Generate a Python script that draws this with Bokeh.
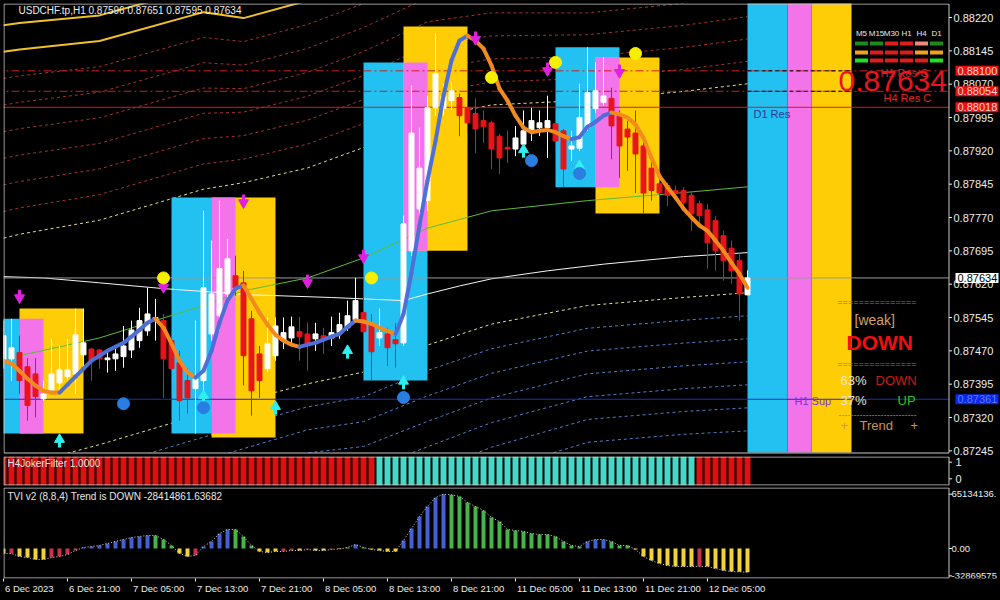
from bokeh.plotting import figure
from bokeh.layouts import column
from bokeh.models import (Range1d, FixedTicker, Label, ColumnDataSource,
                          GlobalInlineStyleSheet)
from bokeh.core.properties import value
from bokeh.embed import file_html
from bokeh.resources import INLINE

FONT = "Liberation Sans"

# ----------------------------------------------------------------- data
bars = list(range(94))   # H1 bars, 6 Dec 13:00 ... 12 Dec 10:00

opens = [
    0.87448, 0.87452, 0.87466, 0.87434, 0.87418, 0.87362, 0.87378, 0.87398, 0.87412, 0.87418,
    0.87461, 0.87474, 0.87472, 0.87450, 0.87452, 0.87457, 0.87472, 0.87493, 0.87515, 0.87538,
    0.87538, 0.87493, 0.87443, 0.87403, 0.87385, 0.87403, 0.87508, 0.87549, 0.87598, 0.87639,
    0.87623, 0.87542, 0.87463, 0.87430, 0.87459, 0.87493, 0.87499, 0.87513, 0.87508, 0.87497,
    0.87504, 0.87499, 0.87511, 0.87522, 0.87540, 0.87556, 0.87529, 0.87499, 0.87508, 0.87495,
    0.87488, 0.87695, 0.87789, 0.87808, 0.88017, 0.88015, 0.88033, 0.88040, 0.88017, 0.88004,
    0.87988, 0.87983, 0.87953, 0.87928, 0.87924, 0.87935, 0.87965, 0.87972, 0.87972, 0.87981,
    0.87965, 0.87924, 0.87926, 0.87972, 0.88015, 0.88029, 0.88038, 0.87999, 0.87969, 0.87960,
    0.87931, 0.87881, 0.87846, 0.87842, 0.87831, 0.87831, 0.87820, 0.87801, 0.87787, 0.87763,
    0.87729, 0.87701, 0.87673, 0.87596]
highs = [
    0.87538, 0.87542, 0.87504, 0.87454, 0.87454, 0.87403, 0.87497, 0.87481, 0.87497, 0.87565,
    0.87565, 0.87477, 0.87474, 0.87466, 0.87481, 0.87526, 0.87538, 0.87567, 0.87612, 0.87587,
    0.87553, 0.87515, 0.87470, 0.87430, 0.87538, 0.87785, 0.87718, 0.87808, 0.87722, 0.87684,
    0.87650, 0.87560, 0.87481, 0.87545, 0.87545, 0.87545, 0.87547, 0.87547, 0.87533, 0.87533,
    0.87522, 0.87547, 0.87556, 0.87583, 0.87634, 0.87614, 0.87553, 0.87565, 0.87522, 0.87533,
    0.87774, 0.88067, 0.87972, 0.88044, 0.88184, 0.88071, 0.88074, 0.88049, 0.88026, 0.88038,
    0.88011, 0.87988, 0.87958, 0.87965, 0.87976, 0.88011, 0.88017, 0.88011, 0.88044, 0.88011,
    0.87969, 0.87965, 0.88071, 0.88153, 0.88119, 0.88130, 0.88062, 0.88011, 0.87988, 0.88011,
    0.87942, 0.87897, 0.87853, 0.87849, 0.87842, 0.87838, 0.87827, 0.87808, 0.87801, 0.87774,
    0.87740, 0.87718, 0.87689, 0.87651]
lows = [
    0.87430, 0.87403, 0.87373, 0.87313, 0.87320, 0.87358, 0.87373, 0.87380, 0.87403, 0.87373,
    0.87432, 0.87403, 0.87430, 0.87421, 0.87425, 0.87432, 0.87454, 0.87477, 0.87504, 0.87493,
    0.87364, 0.87373, 0.87313, 0.87329, 0.87284, 0.87364, 0.87493, 0.87515, 0.87583, 0.87594,
    0.87392, 0.87324, 0.87364, 0.87421, 0.87448, 0.87474, 0.87486, 0.87448, 0.87425, 0.87470,
    0.87463, 0.87481, 0.87497, 0.87515, 0.87538, 0.87403, 0.87403, 0.87481, 0.87436, 0.87432,
    0.87481, 0.87684, 0.87740, 0.87785, 0.87999, 0.87999, 0.88011, 0.87953, 0.87960, 0.87915,
    0.87937, 0.87879, 0.87868, 0.87892, 0.87908, 0.87915, 0.87942, 0.87953, 0.87904, 0.87919,
    0.87838, 0.87897, 0.87919, 0.87965, 0.88006, 0.88022, 0.87901, 0.87859, 0.87875, 0.87825,
    0.87778, 0.87808, 0.87796, 0.87796, 0.87814, 0.87792, 0.87740, 0.87756, 0.87655, 0.87650,
    0.87628, 0.87621, 0.87538, 0.87595]
closes = [
    0.87504, 0.87477, 0.87403, 0.87347, 0.87367, 0.87373, 0.87418, 0.87427, 0.87427, 0.87506,
    0.87488, 0.87448, 0.87452, 0.87454, 0.87463, 0.87481, 0.87517, 0.87538, 0.87553, 0.87545,
    0.87452, 0.87430, 0.87358, 0.87364, 0.87407, 0.87612, 0.87598, 0.87655, 0.87677, 0.87612,
    0.87459, 0.87380, 0.87403, 0.87486, 0.87526, 0.87511, 0.87524, 0.87502, 0.87486, 0.87508,
    0.87495, 0.87511, 0.87529, 0.87549, 0.87583, 0.87513, 0.87468, 0.87511, 0.87477, 0.87486,
    0.87756, 0.87960, 0.87881, 0.88017, 0.88094, 0.88044, 0.88055, 0.87999, 0.87983, 0.87969,
    0.87974, 0.87924, 0.87904, 0.87924, 0.87949, 0.87965, 0.87988, 0.87983, 0.87988, 0.87942,
    0.87879, 0.87931, 0.87995, 0.88051, 0.88055, 0.88044, 0.87976, 0.87931, 0.87951, 0.87913,
    0.87825, 0.87831, 0.87825, 0.87820, 0.87825, 0.87803, 0.87778, 0.87774, 0.87713, 0.87695,
    0.87673, 0.87650, 0.87598, 0.87634]

# smoothed trend line (thick blue/orange)
trend_ma = [
    0.87448, 0.87441, 0.87425, 0.87407, 0.87392, 0.87380, 0.87376, 0.87376, 0.87394, 0.87412,
    0.87430, 0.87448, 0.87459, 0.87470, 0.87479, 0.87488, 0.87502, 0.87517, 0.87533, 0.87542,
    0.87522, 0.87486, 0.87448, 0.87421, 0.87410, 0.87425, 0.87470, 0.87533, 0.87583, 0.87610,
    0.87617, 0.87587, 0.87556, 0.87529, 0.87506, 0.87493, 0.87484, 0.87479, 0.87484, 0.87488,
    0.87495, 0.87502, 0.87508, 0.87524, 0.87538, 0.87536, 0.87531, 0.87522, 0.87515, 0.87508,
    0.87553, 0.87646, 0.87752, 0.87853, 0.87942, 0.88044, 0.88123, 0.88168, 0.88179, 0.88168,
    0.88150, 0.88112, 0.88060, 0.88033, 0.87999, 0.87972, 0.87962, 0.87965, 0.87967, 0.87962,
    0.87953, 0.87946, 0.87951, 0.87974, 0.87985, 0.87999, 0.88006, 0.88002, 0.87995, 0.87979,
    0.87949, 0.87904, 0.87863, 0.87838, 0.87815, 0.87790, 0.87770, 0.87752, 0.87740, 0.87718,
    0.87695, 0.87668, 0.87643, 0.87612]

# long moving average (white)
white_idx = [0, 5, 12, 20, 31, 41, 50, 53, 57, 61, 68, 75, 85, 93]
white_val = [0.87637, 0.87634, 0.87623, 0.87610, 0.87596, 0.87590, 0.87583, 0.87598,
             0.87616, 0.87632, 0.87650, 0.87665, 0.87682, 0.87691]

# envelope channel: centre (green line) and band unit above / below
band_idx = [0, 2, 12, 25, 30, 38, 45, 53, 61, 73, 85, 93]
band_center = [0.87448, 0.87459, 0.87499, 0.87572, 0.87605, 0.87634, 0.87679, 0.87746,
               0.87785, 0.87808, 0.87826, 0.87839]
band_up = [0.000599, 0.000594, 0.000576, 0.000569, 0.000529, 0.000538, 0.000540, 0.000540,
           0.000518, 0.000491, 0.000495, 0.000504]
band_dn = [0.000540, 0.000540, 0.000522, 0.000529, 0.000538, 0.000518, 0.000558, 0.000572,
           0.000554, 0.000513, 0.000513, 0.000518]
band_mult = [4.6, 5.6, 6.6, 7.6, 8.6, 9.6, 10.6, 11.6, 12.6]

# support / resistance levels
res_dashed = [0.88100, 0.88054]
res_solid = [0.88018]
sup_level = 0.87361

# zones (cyan / gold / pink rectangles)
zone_kind = ["cyan", "gold", "pink", "cyan", "gold", "pink",
             "cyan", "gold", "pink", "cyan", "gold", "pink"]
zone_left = [-3, 2, 2, 21, 26, 26, 45, 50, 50, 69, 74, 74]
zone_right = [2, 10, 5, 26, 34, 29, 53, 58, 53, 77, 82, 77]
zone_top = [0.87542, 0.87565, 0.87542, 0.87815, 0.87815, 0.87815,
            0.88119, 0.88200, 0.88119, 0.88153, 0.88130, 0.88130]
zone_bottom = [0.87284, 0.87284, 0.87284, 0.87284, 0.87275, 0.87284,
               0.87403, 0.87695, 0.87695, 0.87838, 0.87779, 0.87838]
strip_kind = ["cyan", "pink", "gold"]
strip_left = [93, 98, 101]
strip_right = [98, 101, 106]

# signal markers
down_arrow_idx = [2, 20, 30, 38, 45, 59, 68, 77]
down_arrow_price = [0.87594, 0.87617, 0.87808, 0.87628, 0.87684, 0.88175, 0.88105, 0.88101]
up_arrow_idx = [7, 25, 34, 43, 50, 65, 72]
up_arrow_price = [0.87266, 0.87365, 0.87340, 0.87466, 0.87397, 0.87918, 0.87882]
yellow_dot_idx = [20, 46, 61, 69, 79]
yellow_dot_price = [0.87634, 0.87634, 0.88085, 0.88119, 0.88139]
blue_dot_idx = [15, 25, 50, 66, 72]
blue_dot_price = [0.87351, 0.87342, 0.87365, 0.87898, 0.87869]

# H4 Joker filter state per bar (D = down / red, U = up / turquoise)
joker_state = ("DDDDDDDDDD" "DDDDDDDDDD" "DDDDDDDDDD" "DDDDDDDDDD" "DDDDDDD"
               "UUUUUUUUUU" "UUUUUUUUUU" "UUUUUUUUUU" "UUUUUUUUUU" "DDDDDDD")
joker_ticks = [1, 0]

# TVI v2 histogram (millions) and its colour state per bar
tvi_values = [
    -6.0, -6.0, -9.6, -10.8, -13.2, -13.2, -10.8, -9.6, -7.2, -2.4,
    1.2, 2.4, 3.6, 6.0, 8.4, 10.8, 13.2, 14.4, 15.6, 15.6,
    10.8, 3.6, -6.0, -9.6, -8.4, 2.4, 8.4, 18.0, 22.8, 22.8,
    14.4, 3.6, -3.6, -4.8, -3.6, -3.6, -2.4, -2.4, -1.2, -2.4,
    -2.4, -1.2, -0.6, 1.2, 4.8, 1.2, -1.2, -2.4, -3.6, -3.6,
    9.6, 24.0, 38.4, 50.4, 61.2, 65.13, 64.5, 62.4, 55.2, 50.4,
    45.6, 37.2, 32.4, 22.8, 21.6, 20.4, 18.0, 16.8, 16.8, 14.4,
    8.4, 3.6, 2.4, 8.4, 10.8, 10.8, 8.4, 3.6, 3.6, -1.2,
    -9.6, -14.4, -18.0, -20.4, -21.6, -21.6, -21.6, -21.6, -21.6, -24.0,
    -26.4, -27.6, -28.0, -28.41]
tvi_state = ("YRYYYYRRRR" "BBBBBBBBBG" "GGYYRBBBBG" "GGYYYRRYRY" "YRYGBGYYYY"
             "BBBBBBGGGG" "GGGGGGGGGG" "GGGBBBGGGY" "YYYYYYYRYY" "YYYY")
tvi_ticks = [65.134136, 0.0, -32.869575]
tvi_tick_text = ["65134136.", "0.00", "-32869575"]

# multi-timeframe signal table
timeframes = ["M5", "M15", "M30", "H1", "H4", "D1"]
signal_rows = [["dg", "dg", "r", "r", "s", "dg"],
               ["o", "r", "r", "r", "o", "o"],
               ["g", "r", "r", "r", "r", "g"]]

# axes
price_ticks = [0.88220, 0.88145, 0.88070, 0.87995, 0.87920, 0.87845, 0.87770,
               0.87695, 0.87620, 0.87545, 0.87470, 0.87395, 0.87320, 0.87245]
time_labels = ["6 Dec 2023", "6 Dec 21:00", "7 Dec 05:00", "7 Dec 13:00", "7 Dec 21:00",
               "8 Dec 05:00", "8 Dec 13:00", "8 Dec 21:00", "11 Dec 05:00", "11 Dec 13:00",
               "11 Dec 21:00", "12 Dec 05:00"]
time_label_bars = [0, 8, 16, 24, 32, 40, 48, 56, 64, 72, 80, 88]

# ----------------------------------------------------------------- layout helpers
PX = 0.0000225                      # price per screen pixel on main panel


def fx(px):                         # screen column -> bar position
    return (px - 3) / 8.0


def fy(py):                         # screen row -> price (main panel)
    return 0.8825825 - PX * py


def jy(py):                         # screen row -> joker value
    return (478.3 - py) / 16.6


def ty(py):                         # screen row -> TVI value (millions)
    return (548.0 - py) * 1.2


BG = "#000000"
FRAME = "#c8c8c8"
TXT = "#eeeeee"
ZONE_COL = {"cyan": "#22c1f1", "pink": "#f374e8", "gold": "#ffcd05"}
SIG_COL = {"dg": "#1a8c1a", "r": "#e01c1c", "s": "#f08a78", "o": "#f0a01e", "g": "#22e022"}
TVI_COL = {"Y": "#f2d23c", "R": "#c8324b", "B": "#4660d2", "G": "#46b446"}
JOKER_COL = {"D": "#e01010", "U": "#46d7c8"}

XL = fx(3.5)          # chart frame left
XR = fx(948.5)        # chart frame right
xr = Range1d(fx(3), fx(1000))


def make_fig(fh, y0, y1, top=0, bottom=0, xaxis=False):
    f = figure(frame_width=997, frame_height=fh, x_range=xr, y_range=Range1d(y0, y1),
               x_axis_location="below" if xaxis else None, y_axis_location=None,
               output_backend="svg", toolbar_location=None,
               background_fill_color=BG, border_fill_color=BG, outline_line_color=None,
               min_border_left=3, min_border_right=0, min_border_top=top,
               min_border_bottom=bottom)
    f.xgrid.visible = False
    f.ygrid.visible = False
    return f


def frame_lines(fig, y_top, y_bot):
    fig.segment(x0=[XL, XL, XL, XR], x1=[XL, XR, XR, XR],
                y0=[y_top, y_top, y_bot, y_top], y1=[y_bot, y_top, y_bot, y_bot],
                line_color=FRAME, line_width=1)


def scale_texts(fig, ticks, texts, size="11px", x_text=953):
    fig.segment(x0=[XR] * len(ticks), x1=[fx(951.5)] * len(ticks), y0=ticks, y1=ticks,
                line_color=TXT, line_width=1)
    fig.text(x=[fx(x_text)] * len(ticks), y=ticks, text=texts, text_color=TXT,
             text_font=value(FONT), text_font_size=size, text_baseline="middle",
             text_align="left")


def lab(fig, x, y, text, color=TXT, size="11px", fstyle="normal", font=FONT,
        align="left", **kw):
    fig.add_layout(Label(x=x, y=y, text=text, text_color=color, text_font_size=size,
                         text_font_style=fstyle, text_font=font, text_align=align,
                         text_baseline="middle", **kw))


# ----------------------------------------------------------------- main panel
p = make_fig(453, fy(456), fy(3), top=3)

# envelope bands
for k, m in enumerate(band_mult):
    upper = [c + m * u for c, u in zip(band_center, band_up)]
    lower = [c - m * d for c, d in zip(band_center, band_dn)]
    if k == 0:
        cu, cd, dash, w = "#e4e08c", "#e4e08c", "3 3", 1
    elif k <= 6:
        cu, cd, dash, w = "#a83030", "#4f7fcf", "3 3", 1
    else:
        cu, cd, dash, w = "#f0c02c", "#f0c02c", "solid", 2
    p.line(band_idx, upper, line_color=cu, line_dash=dash, line_width=w)
    p.line(band_idx, lower, line_color=cd, line_dash=dash, line_width=w)

# zones
p.quad(left=zone_left, right=zone_right, top=zone_top, bottom=zone_bottom,
       fill_color=[ZONE_COL[k] for k in zone_kind], line_color=None)
p.quad(left=strip_left, right=strip_right, top=fy(0), bottom=fy(452),
       fill_color=[ZONE_COL[k] for k in strip_kind], line_color=None)

# moving averages
p.line(white_idx, white_val, line_color="#f4f4f4", line_width=1)
p.line(band_idx, band_center, line_color="#5fba36", line_width=1)

# horizontal levels (chart area only)
n_d = len(res_dashed)
p.segment(x0=[-1] * n_d, x1=[XR] * n_d, y0=res_dashed, y1=res_dashed,
          line_color="#cc2020", line_width=1, line_dash="8 3 2 3")
p.segment(x0=[-1], x1=[XR], y0=res_solid, y1=res_solid, line_color="#cc2020", line_width=1)
p.segment(x0=[-1], x1=[XR], y0=[closes[-1]], y1=[closes[-1]], line_color="#9a9a9a",
          line_width=1)
p.segment(x0=[-1], x1=[XR], y0=[sup_level], y1=[sup_level], line_color="#1a2ad0",
          line_width=1)
p.segment(x0=[strip_left[0]] * n_d, x1=[strip_right[-1]] * n_d, y0=res_dashed, y1=res_dashed,
          line_color="#000000", line_width=1, line_dash="4 3")

# candles
bull = [c >= o for o, c in zip(opens, closes)]
csrc = ColumnDataSource(dict(
    x=bars, h=highs, l=lows,
    top=[max(o, c) for o, c in zip(opens, closes)],
    bottom=[min(o, c) for o, c in zip(opens, closes)],
    color=["#ffffff" if b else "#e8141a" for b in bull]))
p.segment(x0="x", y0="h", x1="x", y1="l", line_color="color", line_width=1, source=csrc)
p.vbar(x="x", width=0.62, top="top", bottom="bottom", fill_color="color",
       line_color="color", line_width=1, source=csrc)

# thick trend line coloured by direction
seg = ColumnDataSource(dict(
    x0=bars[:-1], x1=bars[1:], y0=trend_ma[:-1], y1=trend_ma[1:],
    color=["#4f6fd8" if b - a > 0.00004 else "#f28a1e"
           for a, b in zip(trend_ma[:-1], trend_ma[1:])]))
p.segment(x0="x0", y0="y0", x1="x1", y1="y1", line_color="color", line_width=4,
          line_cap="round", source=seg)

# arrows and dots
p.segment(x0=down_arrow_idx, x1=down_arrow_idx,
          y0=[v + 6 * PX for v in down_arrow_price], y1=[v - 1 * PX for v in down_arrow_price],
          line_color="#e020e0", line_width=3)
p.scatter(down_arrow_idx, [v - 2 * PX for v in down_arrow_price], marker="inverted_triangle",
          size=10, fill_color="#e020e0", line_color="#e020e0")
p.segment(x0=up_arrow_idx, x1=up_arrow_idx,
          y0=[v - 6 * PX for v in up_arrow_price], y1=[v + 1 * PX for v in up_arrow_price],
          line_color="#30eef0", line_width=3)
p.scatter(up_arrow_idx, [v + 2 * PX for v in up_arrow_price], marker="triangle",
          size=10, fill_color="#30eef0", line_color="#30eef0")
p.scatter(yellow_dot_idx, yellow_dot_price, marker="circle", size=12,
          fill_color="#f6f000", line_color="#f6f000")
p.scatter(blue_dot_idx, blue_dot_price, marker="circle", size=12,
          fill_color="#2a7de1", line_color="#2a7de1")

# mask below the chart frame, then the frame itself
p.quad(left=[-2], right=[fx(949)], top=[fy(452.6)], bottom=[fy(460)], fill_color=BG,
       line_color=None)
frame_lines(p, fy(3.5), fy(452.5))

# multi-timeframe table
col_px = [861, 876, 891, 906, 921, 936]
row_px = [43, 52, 60]
rx, ry, rc = [], [], []
for r, row in enumerate(signal_rows):
    for c, s in enumerate(row):
        rx.append(fx(col_px[c]))
        ry.append(fy(row_px[r]))
        rc.append(SIG_COL[s])
p.rect(x=rx, y=ry, width=13 / 8.0, height=4 * PX, fill_color=rc, line_color=None)
for c, tf in enumerate(timeframes):
    lab(p, fx(col_px[c]), fy(33), tf, color="#e8e8e8", size="8px", align="center")

# price scale
scale_texts(p, price_ticks, ["%.5f" % t for t in price_ticks])
box_levels = res_dashed + res_solid + [closes[-1], sup_level]
box_fill = ["#e81010", "#e81010", "#e81010", "#ffffff", "#0a28f0"]
box_text = ["#ffd0d0", "#ffd0d0", "#ffd0d0", "#000000", "#5a78ff"]
p.quad(left=[fx(955)] * 5, right=[fx(998)] * 5, top=[v + 5 * PX for v in box_levels],
       bottom=[v - 5 * PX for v in box_levels], fill_color=box_fill, line_color=None)
p.text(x=[fx(957)] * 5, y=box_levels, text=["%.5f" % v for v in box_levels],
       text_color=box_text, text_font=value(FONT), text_font_size="11px",
       text_baseline="middle", text_align="left")

# texts
lab(p, fx(18), fy(10), "USDCHF.tp,H1  %.5f %.5f %.5f %.5f"
    % (opens[-1], highs[-1], lows[-1], closes[-1]), size="10px")
lab(p, fx(880), fy(72), "H1 Res C", color="#b83030", size="11px")
lab(p, fx(838), fy(80), "%.5f" % closes[-1], color="#e8141e", size="30px")
lab(p, fx(883), fy(97), "H4 Res C", color="#e02424", size="11px")
lab(p, fx(753), fy(113), "D1 Res", color="#2b3990", size="11px")
lab(p, fx(837), fy(301), "===============", color="#e0502a", size="9px")
lab(p, fx(854), fy(319), "[weak]", color="#d4a060", size="14px")
lab(p, fx(846), fy(342), "DOWN", color="#ee1010", size="21px", fstyle="bold")
lab(p, fx(837), fy(363), "===============", color="#e0502a", size="9px")
lab(p, fx(840), fy(380), "63%", color="#f2e6d0", size="13px")
lab(p, fx(875), fy(380), "DOWN", color="#d01818", size="13px")
lab(p, fx(794), fy(400), "H1 Sup", color="#7b2ff0", size="11px")
lab(p, fx(840), fy(400), "37%", color="#f2e6d0", size="13px")
lab(p, fx(897), fy(400), "UP", color="#22c822", size="13px")
lab(p, fx(838), fy(414), "--------------------------", color="#c07a30", size="9px")
lab(p, fx(840), fy(425), "+", color="#d09050", size="13px")
lab(p, fx(859), fy(425), "Trend", color="#d09050", size="13px")
lab(p, fx(910), fy(425), "+", color="#d09050", size="13px")

# ----------------------------------------------------------------- joker panel
pj = make_fig(29, jy(485), jy(456), top=0, bottom=1)
pj.vbar(x=bars, top=2, bottom=-1, width=0.75,
        fill_color=[JOKER_COL[s] for s in joker_state], line_color=None)
frame_lines(pj, jy(456.5), jy(484.5))
scale_texts(pj, joker_ticks, ["%d" % t for t in joker_ticks], x_text=955)
lab(pj, fx(7), jy(463), "H4JokerFilter 1.0000", color="#e8e8e8", size="10px")

# ----------------------------------------------------------------- TVI panel
pt = make_fig(91, ty(578), ty(487), top=1, bottom=0, xaxis=True)
pt.vbar(x=bars, top=tvi_values, bottom=0, width=0.5,
        fill_color=[TVI_COL[s] for s in tvi_state], line_color=None)
pt.line(bars, tvi_values, line_color="#d8d8d8", line_width=1, line_dash="1 2")
frame_lines(pt, ty(487.5), ty(577.5))
scale_texts(pt, tvi_ticks, tvi_tick_text, size="9.5px", x_text=951)
lab(pt, fx(7), ty(496), "TVI v2 (8,8,4) Trend is DOWN -28414861.63682",
    color="#e8e8e8", size="10px")

starts = [max(b, fx(4)) for b in time_label_bars]
centers = [round(s + (1 + len(t) * 0.25 * 9.5) / 8.0, 3) for s, t in zip(starts, time_labels)]
xa = pt.xaxis[0]
xa.ticker = FixedTicker(ticks=centers, minor_ticks=time_label_bars)
xa.major_label_overrides = {c: t for c, t in zip(centers, time_labels)}
xa.major_label_text_color = TXT
xa.major_label_text_font = FONT
xa.major_label_text_font_size = "9.5px"
xa.major_tick_out = 0
xa.major_tick_in = 0
xa.minor_tick_out = 3
xa.minor_tick_in = 0
xa.minor_tick_line_color = TXT
xa.axis_line_color = None
xa.major_label_standoff = 1

layout = column(p, pj, pt, spacing=0,
                stylesheets=[GlobalInlineStyleSheet(css="html, body { background-color: #000000; }")])

open("out.html", "w").write(file_html(layout, INLINE))
